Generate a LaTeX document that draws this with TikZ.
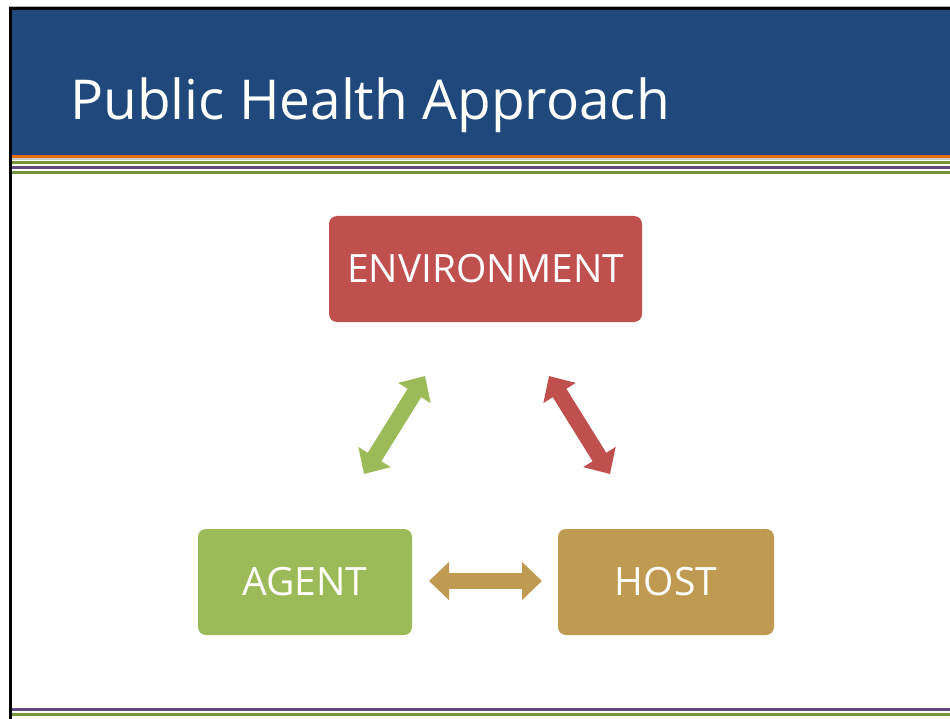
\documentclass[tikz,border=0pt]{standalone}
\usepackage{fontspec}
\setmainfont{Open Sans}
\usepackage{xcolor}
\usetikzlibrary{arrows.meta, positioning}

\definecolor{headblue}{HTML}{1F497D}
\definecolor{envred}{HTML}{C0504D}
\definecolor{agentgreen}{HTML}{9BBB59}
\definecolor{hosttan}{HTML}{C09A50}
\definecolor{stripeorange}{HTML}{E46C0A}
\definecolor{stripegreen}{HTML}{77933C}
\definecolor{stripepurple}{HTML}{604A7B}

\begin{document}
\begin{tikzpicture}[x=1pt, y=-1pt,
        box/.style={rounded corners=8pt, text=white, font=\fontsize{39}{42}\selectfont, minimum height=106pt, inner sep=0pt},
        dblarrow/.style={line width=16pt, {Triangle[width=37pt,length=20pt]}-{Triangle[width=37pt,length=20pt]}}]
        \useasboundingbox (0,0) rectangle (950,719);
        \fill[white] (0,0) rectangle (950,719);
        % header and stripes
        \fill[headblue] (12,10) rectangle (950,155);
        \fill[stripeorange] (12,155) rectangle (950,158);
        \fill[black!20] (12,158.3) rectangle (950,160);
        \fill[stripegreen] (12,160.7) rectangle (950,163.7);
        \fill[stripepurple] (12,165.7) rectangle (950,169);
        \fill[stripegreen] (12,171) rectangle (950,174.3);
        \fill[stripepurple] (12,708) rectangle (950,711);
        \fill[stripegreen] (12,713.3) rectangle (950,716.3);
        \fill[black!30] (9,6.5) rectangle (950,7.5);
        \fill[black] (9,7.5) rectangle (950,10);
        \fill[black] (9,7.5) rectangle (12,719);
        \node [anchor=base west, text=white, font=\fontsize{55}{58}\selectfont, inner sep=0pt] (title) at (70,120) {Public Health Approach};

        % the triangle
        \node [box, fill=envred, minimum width=313pt] (env) at (485.5,269) {ENVIRONMENT};
        \node [box, fill=agentgreen, minimum width=214pt] (agent) at (305,582) {AGENT};
        \node [box, fill=hosttan, minimum width=216pt] (host) at (666,582) {HOST};

        \coordinate (ga) at (364,474);
        \coordinate (ge) at (425,376);
        \coordinate (re) at (549,376);
        \coordinate (rh) at (610,474);
        \coordinate (ah) at (429,581);
        \coordinate (ha) at (542,581);
        \draw [dblarrow, agentgreen] (ga) -- (ge);
        \draw [dblarrow, envred] (re) -- (rh);
        \draw [dblarrow, hosttan] (ah) -- (ha);
    \end{tikzpicture}
\end{document}
